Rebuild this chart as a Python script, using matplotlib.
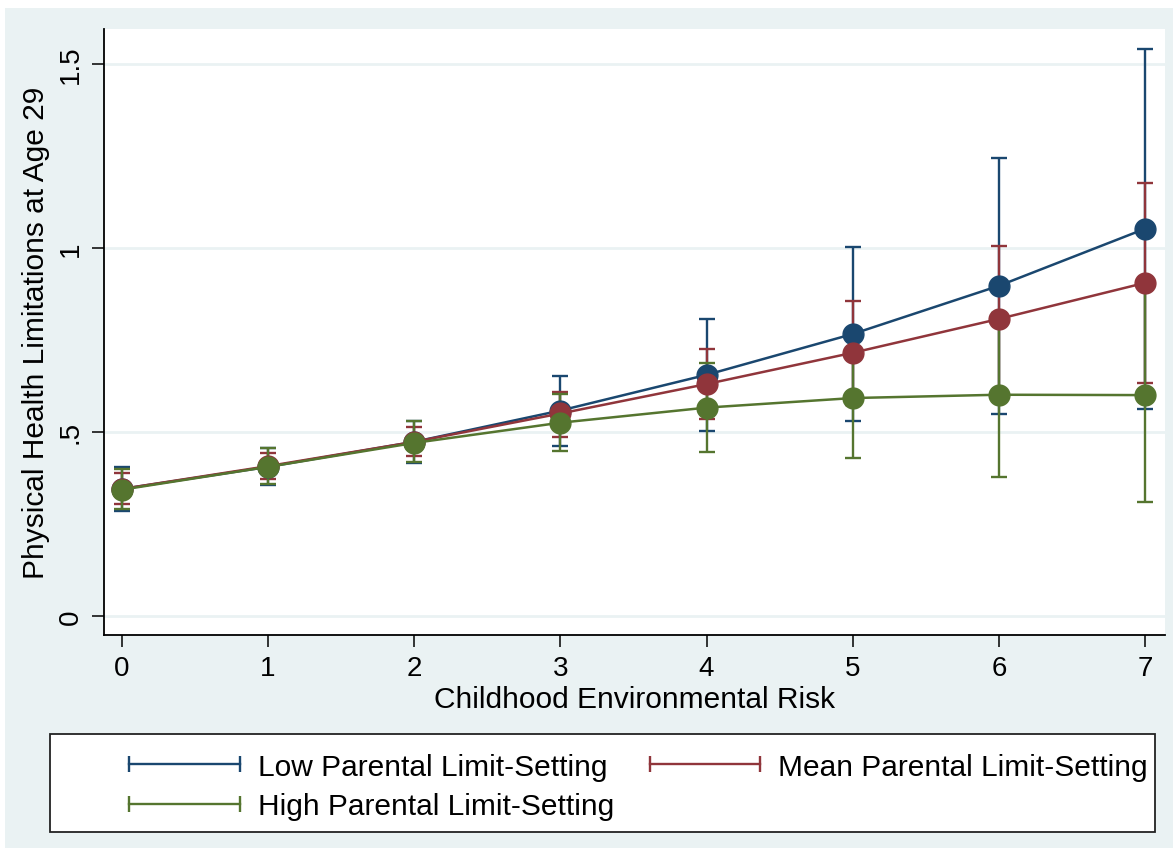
import numpy as np
import matplotlib.pyplot as plt
from matplotlib.lines import Line2D
from matplotlib.patches import Rectangle

plt.rcParams['font.family'] = ['Liberation Sans', 'DejaVu Sans']

# childhood environmental risk score
risk = [0, 1, 2, 3, 4, 5, 6, 7]

# predicted physical health limitations with 95% CI, by parental limit-setting
low = [0.345, 0.405, 0.473, 0.558, 0.655, 0.766, 0.897, 1.052]
low_lo = [0.284, 0.357, 0.416, 0.462, 0.503, 0.529, 0.549, 0.563]
low_hi = [0.405, 0.457, 0.530, 0.652, 0.807, 1.003, 1.245, 1.541]

mean = [0.345, 0.407, 0.473, 0.550, 0.630, 0.715, 0.807, 0.905]
mean_lo = [0.305, 0.372, 0.435, 0.486, 0.535, 0.574, 0.609, 0.633]
mean_hi = [0.389, 0.443, 0.514, 0.609, 0.725, 0.856, 1.005, 1.177]

high = [0.343, 0.405, 0.470, 0.525, 0.566, 0.592, 0.601, 0.600]
high_lo = [0.290, 0.359, 0.418, 0.448, 0.446, 0.429, 0.378, 0.310]
high_hi = [0.400, 0.455, 0.530, 0.603, 0.687, 0.755, 0.824, 0.890]

labels = ['Low Parental Limit-Setting', 'Mean Parental Limit-Setting',
          'High Parental Limit-Setting']
colors = ['#1a476f', '#90353b', '#55752f']
y_ticks = [0, 0.5, 1, 1.5]
y_ticklabels = ['0', '.5', '1', '1.5']

series = [(low, low_lo, low_hi), (mean, mean_lo, mean_hi), (high, high_lo, high_hi)]

fig = plt.figure(figsize=(11.73, 8.53), dpi=100)
fig.patch.set_facecolor('white')
# light bluish graph region
fig.patches.append(Rectangle((5 / 1173, 4 / 853), 1168 / 1173, 840 / 853,
                             transform=fig.transFigure, facecolor='#eaf2f3',
                             edgecolor='none', zorder=-5))

ax = fig.add_axes([104 / 1173, 1 - 636 / 853, 1061 / 1173, 606 / 853])
ax.set_facecolor('white')

# CIs first, then lines and markers on top
for (m, lo, hi), c in zip(series, colors):
    m = np.array(m)
    err = [m - np.array(lo), np.array(hi) - m]
    ax.errorbar(risk, m, yerr=err, fmt='none', ecolor=c, elinewidth=1.7,
                capsize=5.5, capthick=1.7, zorder=2)
for (m, lo, hi), c in zip(series, colors):
    ax.plot(risk, m, color=c, lw=1.8, marker='o', markersize=15, zorder=3)

ax.set_xlim(-0.123, 7.137)
ax.set_ylim(-0.052, 1.595)
ax.set_xticks(risk)
ax.set_yticks(y_ticks)
ax.set_yticklabels(y_ticklabels)
ax.yaxis.grid(True, color='#eaf2f3', lw=2)
ax.set_axisbelow(True)

for s in ['top', 'right']:
    ax.spines[s].set_visible(False)
for s in ['left', 'bottom']:
    ax.spines[s].set_linewidth(1.3)

ax.tick_params(axis='both', length=8.5, width=1.1, labelsize=20, pad=6)
ax.tick_params(axis='y', labelrotation=90)
for t in ax.get_yticklabels():
    t.set_va('center')

ax.set_xlabel('Childhood Environmental Risk', fontsize=21.5, labelpad=3)
ax.set_ylabel('Physical Health Limitations at Age 29', fontsize=21.5, labelpad=6)

# legend box, drawn by hand
fig.patches.append(Rectangle((50 / 1173, 20 / 853), 1105 / 1173, 98 / 853,
                             transform=fig.transFigure, facecolor='white',
                             edgecolor='#222222', lw=1.3, zorder=1))
handles = [Line2D([], [], color=c, lw=1.7, marker='|', markersize=12,
                  markeredgewidth=1.7) for c in colors]
# matplotlib fills columns first: order so that row 1 is Low, Mean
order = [0, 2, 1]
fig.legend([handles[i] for i in order], [labels[i] for i in order], ncol=2,
           loc='center', bbox_to_anchor=(634 / 1173, 1 - 787.5 / 853),
           frameon=False, fontsize=21.5, numpoints=2, handlelength=4.3,
           handletextpad=0.3, columnspacing=0.9, labelspacing=0.4,
           borderpad=0)

plt.savefig('out.png', dpi=100)
